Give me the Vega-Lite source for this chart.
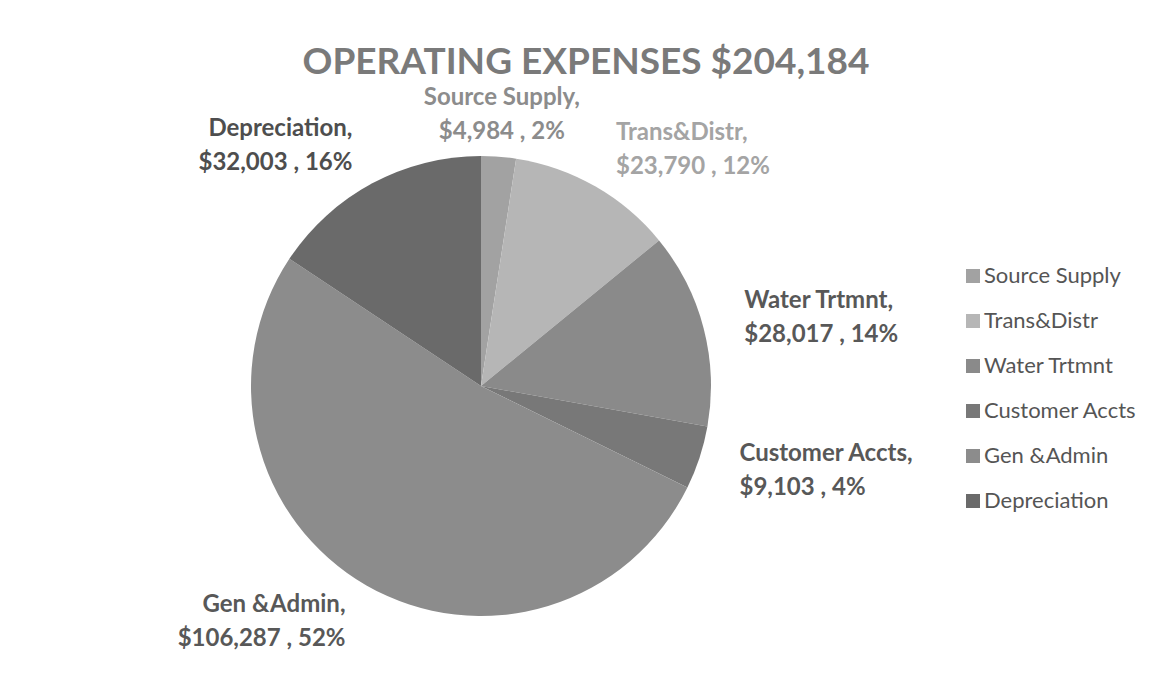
{
  "$schema": "https://vega.github.io/schema/vega-lite/v6.json",
  "width": 762,
  "height": 572,
  "autosize": {"type": "none"},
  "padding": {"left": 100, "top": 100, "right": 298, "bottom": 12},
  "background": "white",
  "config": {"view": {"stroke": null}, "font": "Lato"},
  "title": {
    "text": "OPERATING EXPENSES $204,184",
    "fontSize": 37,
    "font": "Lato",
    "fontWeight": "bold",
    "color": "#7a7a7a",
    "anchor": "middle",
    "dx": 105,
    "offset": -33,
    "baseline": "bottom"
  },
  "data": {
    "values": [
      {"category": "Source Supply", "value": 4984, "rank": 1, "label": "Source Supply,\n$4,984 , 2%"},
      {"category": "Trans&Distr", "value": 23790, "rank": 2, "label": "Trans&Distr,\n$23,790 , 12%"},
      {"category": "Water Trtmnt", "value": 28017, "rank": 3, "label": "Water Trtmnt,\n$28,017 , 14%"},
      {"category": "Customer Accts", "value": 9103, "rank": 4, "label": "Customer Accts,\n$9,103 , 4%"},
      {"category": "Gen &Admin", "value": 106287, "rank": 5, "label": "Gen &Admin,\n$106,287 , 52%"},
      {"category": "Depreciation", "value": 32003, "rank": 6, "label": "Depreciation,\n$32,003 , 16%"}
    ]
  },
  "transform": [
    {"stack": "value", "sort": [{"field": "rank", "order": "ascending"}], "as": ["v0", "v1"]}
  ],
  "layer": [
    {
      "mark": {"type": "arc", "outerRadius": 230},
      "encoding": {
        "theta": {"field": "v0", "type": "quantitative", "scale": {"domain": [0, 204184]}},
        "theta2": {"field": "v1"},
        "color": {
          "field": "category",
          "type": "nominal",
          "sort": null,
          "scale": {
            "domain": ["Source Supply", "Trans&Distr", "Water Trtmnt", "Customer Accts", "Gen &Admin", "Depreciation"],
            "range": ["#a2a2a2", "#b6b6b6", "#8a8a8a", "#787878", "#8c8c8c", "#6a6a6a"]
          },
          "legend": {
            "title": null,
            "orient": "none",
            "legendX": 862,
            "legendY": 165,
            "symbolType": "square",
            "symbolSize": 196,
            "symbolStrokeWidth": 0,
            "labelFontSize": 22,
            "labelFont": "Lato",
            "labelColor": "#555555",
            "rowPadding": 23,
            "labelOffset": 0
          }
        }
      }
    },
    {
      "transform": [
        {"fold": ["v0", "v1"], "as": ["edge", "angle"]},
        {"aggregate": [{"op": "mean", "field": "angle", "as": "mid"}], "groupby": ["category", "label", "rank"]}
      ],
      "encoding": {
        "theta": {"field": "mid", "type": "quantitative", "stack": null, "scale": {"domain": [0, 204184]}},
        "text": {"field": "label", "type": "nominal"},
        "fill": {
          "field": "category",
          "type": "nominal",
          "scale": {
            "domain": ["Source Supply", "Trans&Distr", "Water Trtmnt", "Customer Accts", "Gen &Admin", "Depreciation"],
            "range": ["#8c8c8c", "#a4a4a4", "#585858", "#585858", "#585858", "#4e4e4e"]
          },
          "legend": null
        }
      },
      "layer": [
        {
          "transform": [{"filter": "datum.rank == 1"}],
          "mark": {"type": "text", "font": "Lato", "fontSize": 24, "fontWeight": "bold", "lineBreak": "\n", "lineHeight": 34, "align": "center", "baseline": "middle", "dy": -17, "radius": 272}
        },
        {
          "transform": [{"filter": "datum.rank >= 2 && datum.rank <= 4"}],
          "mark": {"type": "text", "font": "Lato", "fontSize": 24, "fontWeight": "bold", "lineBreak": "\n", "lineHeight": 34, "align": "left", "baseline": "middle", "dy": -17, "radius": 272}
        },
        {
          "transform": [{"filter": "datum.rank >= 5"}],
          "mark": {"type": "text", "font": "Lato", "fontSize": 24, "fontWeight": "bold", "lineBreak": "\n", "lineHeight": 34, "align": "right", "baseline": "middle", "dy": -17, "radius": 272}
        }
      ]
    }
  ],
  "resolve": {"scale": {"color": "independent", "fill": "independent"}}
}
